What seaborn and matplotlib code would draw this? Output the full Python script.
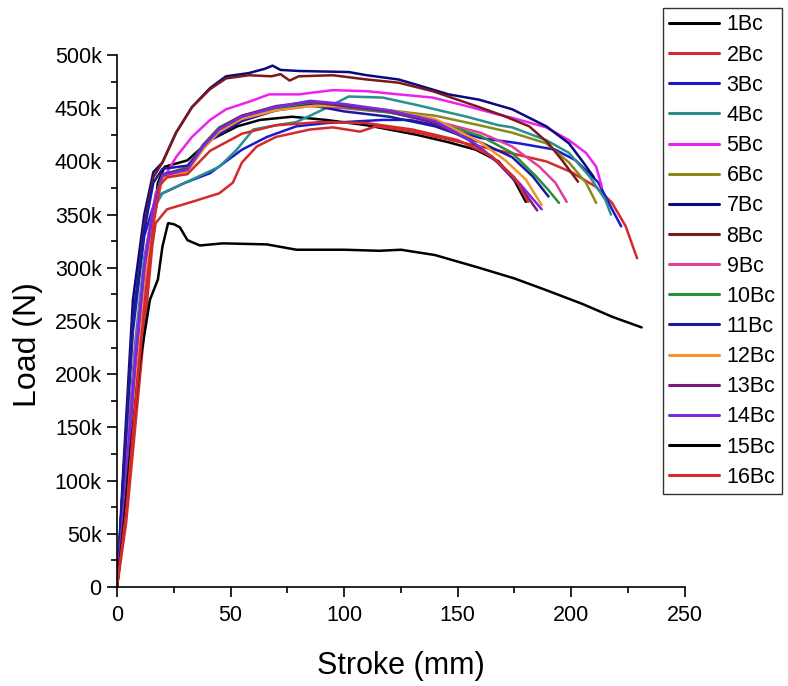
import numpy as np
import pandas as pd
import matplotlib
matplotlib.use("Agg")
import matplotlib.pyplot as plt
from matplotlib.ticker import MultipleLocator, FuncFormatter
import seaborn as sns

# ---- data (stroke in mm, load in kN) ----
s1_x = [0, 5, 10, 14, 18, 21, 31, 41, 53, 63, 77, 92, 110, 132, 146, 158, 168, 175, 180]
s1_y = [0, 110, 220, 310, 380, 395, 401, 420, 433, 439, 442, 439, 434, 425, 418, 411, 400, 382, 362]

s2_x = [0, 4, 8, 12, 15.5, 17, 22, 33, 45, 51, 55, 61.5, 70, 85, 95, 107, 114, 130, 145, 160, 175, 189, 200, 211, 218, 224, 229]
s2_y = [0, 60, 150, 240, 320, 342, 355, 362, 370, 380, 399, 414, 423, 430, 432, 428, 433, 428, 421, 414, 407, 400, 390, 376, 361, 339, 309]

s3_x = [0, 3, 7, 12, 17, 20, 30, 41, 55, 66, 79, 92, 117, 129, 145, 160, 177, 193, 202, 212, 218, 222]
s3_y = [0, 110, 240, 330, 365, 370, 380, 389, 411, 423, 433, 436, 439, 439, 432, 422, 417, 411, 401, 380, 355, 339]

s4_x = [0, 4, 8, 12, 16, 20, 33, 45, 52.7, 60, 70, 79, 90, 102, 117, 132, 154, 168, 174, 189, 199, 208, 215, 217.5]
s4_y = [0, 120, 230, 310, 355, 370, 383, 395, 411, 430, 434, 437, 448, 461, 460, 453, 442, 434, 432, 420, 408, 386, 364, 350]

s5_x = [0, 4, 8, 13, 17, 21, 26, 33, 41, 48, 58, 67, 80, 95, 110, 124, 139, 154, 168, 174, 189, 199, 206.5, 211, 213.5]
s5_y = [0, 110, 220, 320, 370, 386, 404, 423, 439, 449, 456, 463, 463, 467, 466, 463, 460, 452, 444, 441, 432, 420, 408, 395, 376]

s6_x = [0, 4, 8, 12, 16, 19, 22, 31, 38, 45, 55, 70, 85, 100, 120, 140, 159.5, 174, 189, 199, 206.5, 211]
s6_y = [0, 100, 200, 290, 350, 380, 388, 395, 414, 430, 442, 450, 455, 452, 448, 443, 434, 427, 417, 399, 380, 361]

s7_x = [0, 3, 7, 12, 16, 20, 26, 33, 41, 48, 58, 65, 68.5, 72, 80, 102, 110, 124, 132, 146, 159.5, 174, 189, 199, 205, 210]
s7_y = [0, 120, 270, 350, 390, 399, 427, 451, 469, 480, 483, 487, 490, 486, 485, 484, 481, 477, 472, 463, 458, 449, 433, 417, 400, 385]

s8_x = [0, 3, 7, 12, 16, 20, 26, 33, 41, 48, 58, 68, 72, 76, 80, 95, 110, 124, 139, 159.5, 170, 181.5, 190, 196, 203]
s8_y = [0, 110, 250, 340, 385, 399, 427, 451, 468, 478, 481, 480, 482, 476, 480, 481, 477, 474, 466, 451, 443, 433, 417, 401, 381]

s9_x = [0, 4, 8, 12, 16, 20, 31, 38, 45, 55, 70, 85, 100, 120, 140, 160, 174, 186, 193, 198]
s9_y = [0, 90, 190, 280, 345, 385, 391, 412, 428, 440, 448, 452, 450, 446, 438, 427, 414, 395, 380, 362]

s10_x = [0, 4, 8, 12, 16, 19, 22, 31, 38, 45, 55, 70, 85, 100, 120, 140, 160, 174, 184.5, 190, 194.6]
s10_y = [0, 100, 210, 300, 355, 382, 389, 394, 416, 432, 443, 450, 454, 451, 446, 437, 424, 408, 386, 373, 361]

s11_x = [0, 3, 7, 12, 16, 20, 31, 41, 55, 70, 85, 100, 120, 140, 160, 174, 183, 190]
s11_y = [0, 110, 250, 335, 380, 393, 396, 420, 438, 448, 453, 447, 442, 433, 418, 404, 386, 367]

s12_x = [0, 4, 8, 12, 16, 20, 31, 38, 45, 55, 70, 85, 100, 120, 140, 160, 171, 180, 187]
s12_y = [0, 95, 200, 290, 350, 384, 390, 412, 428, 440, 448, 452, 452, 448, 440, 418, 401, 383, 359]

s13_x = [0, 4, 8, 12, 16, 20, 31, 38, 45, 55, 70, 85, 100, 120, 140, 155, 167, 177, 185]
s13_y = [0, 100, 210, 300, 355, 388, 393, 415, 431, 443, 452, 456, 452, 447, 436, 420, 400, 378, 354]

s14_x = [0, 4, 8, 12, 16, 20, 31, 38, 45, 55, 70, 85, 100, 120, 140, 157, 167, 177, 187]
s14_y = [0, 100, 210, 300, 355, 387, 392, 414, 430, 442, 451, 457, 454, 448, 438, 418, 401, 380, 355]

s15_x = [0, 3, 6, 10, 14.5, 18, 20, 22.5, 25, 27.7, 31, 36.5, 46.6, 66, 79, 100, 115.6, 125, 140, 159.5, 175, 189, 205, 218, 231]
s15_y = [0, 60, 130, 210, 270, 289, 320, 342, 341, 338, 326, 321, 323, 322, 317, 317, 316, 317, 312, 300, 290, 279, 266, 254, 244]

s16_x = [0, 4, 8, 12, 16, 19, 22, 31, 41, 55, 70, 90, 110, 130, 150, 165, 175, 181]
s16_y = [0, 70, 170, 260, 340, 378, 385, 388, 410, 426, 434, 437, 436, 430, 420, 405, 385, 362]

labels = ["1Bc", "2Bc", "3Bc", "4Bc", "5Bc", "6Bc", "7Bc", "8Bc",
          "9Bc", "10Bc", "11Bc", "12Bc", "13Bc", "14Bc", "15Bc", "16Bc"]
colors = ["#000000", "#d42a2a", "#1a1ad0", "#2a8f8f", "#ee22ee", "#8a8a1a",
          "#0a0a80", "#7a1a1a", "#e0409a", "#2a8f3a", "#1a1aa0", "#f0962a",
          "#7a1a7a", "#7a2ae0", "#000000", "#d42a2a"]

xs = [s1_x, s2_x, s3_x, s4_x, s5_x, s6_x, s7_x, s8_x, s9_x, s10_x, s11_x, s12_x, s13_x, s14_x, s15_x, s16_x]
ys = [s1_y, s2_y, s3_y, s4_y, s5_y, s6_y, s7_y, s8_y, s9_y, s10_y, s11_y, s12_y, s13_y, s14_y, s15_y, s16_y]

rows = []
for lab, x, y in zip(labels, xs, ys):
    for i, (a, b) in enumerate(zip(x, y)):
        rows.append({"Specimen": lab, "order": i, "Stroke": a, "Load": b * 1000.0})
df = pd.DataFrame(rows)

sns.set_style("ticks")
plt.rcParams["font.family"] = ["Liberation Sans", "DejaVu Sans"]
plt.rcParams["text.color"] = "black"
plt.rcParams["axes.labelcolor"] = "black"

fig = plt.figure(figsize=(7.88, 6.86), dpi=100)
ax = fig.add_axes([0.1485, 0.1443, 0.7205, 0.7755])

sns.lineplot(data=df, x="Stroke", y="Load", hue="Specimen", hue_order=labels,
             palette=dict(zip(labels, colors)), sort=False, estimator=None,
             units="Specimen", linewidth=1.8, ax=ax, legend=False)

ax.set_xlim(0, 250)
ax.set_ylim(0, 500000)
ax.xaxis.set_major_locator(MultipleLocator(50))
ax.xaxis.set_minor_locator(MultipleLocator(25))
ax.yaxis.set_major_locator(MultipleLocator(50000))
ax.yaxis.set_minor_locator(MultipleLocator(25000))
ax.yaxis.set_major_formatter(FuncFormatter(lambda v, p: "0" if v == 0 else f"{int(v/1000)}k"))
ax.tick_params(which="major", direction="out", length=7, width=1.2, labelsize=15.5,
               colors="black", labelcolor="black", pad=4)
ax.tick_params(axis="x", which="major", pad=6)
ax.tick_params(which="minor", direction="out", length=4, width=1.2, colors="black")
for sp in ["top", "right"]:
    ax.spines[sp].set_visible(False)
for sp in ["left", "bottom"]:
    ax.spines[sp].set_linewidth(1.2)
    ax.spines[sp].set_color("black")

ax.set_xlabel("Stroke (mm)", fontsize=22, color="black")
ax.set_ylabel("Load (N)", fontsize=23, color="black")
ax.xaxis.set_label_coords(0.5, -0.12)
ax.yaxis.set_label_coords(-0.13, 0.455)

handles = [plt.Line2D([0], [0], color=c, lw=2.2) for c in colors]
leg = fig.legend(handles, labels, loc="upper left",
                 bbox_to_anchor=(663/788, 1 - 8/686), frameon=True,
                 fancybox=False, edgecolor="black", fontsize=15.5,
                 handlelength=2.3, labelspacing=0.425, borderpad=0.3,
                 handletextpad=0.35, borderaxespad=0)
leg.get_frame().set_linewidth(1.0)
for t in leg.get_texts():
    t.set_color("black")

fig.savefig("out.png", dpi=100, facecolor="white")
